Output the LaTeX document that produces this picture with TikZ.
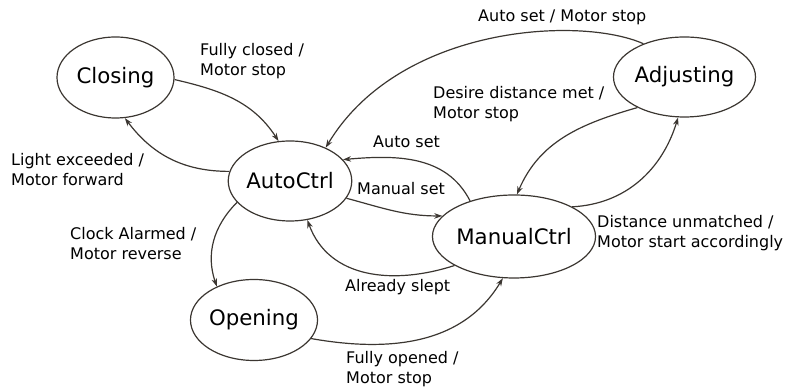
\documentclass[tikz,border=0pt]{standalone}
\usepackage{fontspec}
\setmainfont{DejaVu Sans}
\usetikzlibrary{shapes.geometric,arrows.meta}
\definecolor{edgegray}{HTML}{3B3631}
\definecolor{tipgray}{HTML}{55504B}
\tikzset{
  state/.style={ellipse, draw=edgegray, line width=1.2pt, inner sep=0pt,
    font=\fontsize{21.3}{25}\selectfont},
  trans/.style={draw=edgegray, line width=1.2pt,
    -{Stealth[length=8pt,width=5.5pt,inset=2.5pt,fill=tipgray]}},
  % base anchor of a two-line label sits on its last line
  lbl/.style={anchor=base west, inner sep=0pt, align=left,
    font=\fontsize{16}{20.5}\selectfont}
}
\begin{document}
\begin{tikzpicture}[x=1pt,y=1pt]
\useasboundingbox (0,0) rectangle (785,387);

% states
\node[state, minimum width=117pt, minimum height=81pt] (clo) at (115.5,309.5) {Closing};
\node[state, minimum width=116pt, minimum height=80pt] (auto) at (290,206) {AutoCtrl};
\node[state, minimum width=118pt, minimum height=81pt] (open) at (254,67) {Opening};
\node[state, minimum width=142pt, minimum height=83pt] (man) at (514,150.5) {ManualCtrl};
\node[state, minimum width=142pt, minimum height=80pt] (adj) at (684.5,310) {Adjusting};

% transitions
\draw[trans] (clo.-2) to[out=-13,in=123] (auto.106);
\draw[trans] (auto.171) to[out=180,in=-53] (clo.-77);
\draw[trans] (adj.141) to[out=156,in=59,out distance=69pt,in distance=143pt] (auto.43);
\draw[trans] (adj.213) to[out=196,in=67] (man.86);
\draw[trans] (man.27) to[out=3,in=-107] (adj.-99);
\draw[trans] (man.141) to[out=117,in=5] (auto.22);
\draw[trans] (auto.-17) to[out=-15,in=180] (man.164);
\draw[trans] (man.206) to[out=198,in=-70,looseness=1.05] (auto.-66);
\draw[trans] (auto.202) to[out=225,in=109] (open.138);
\draw[trans] (open.-18) to[out=-10,in=239] (man.-105);

% transition labels
\node[lbl] (l1) at (200,311) {Fully closed /\\Motor stop};
\node[lbl] (l2) at (11,201) {Light exceeded /\\Motor forward};
\node[lbl] (l3) at (478,365) {Auto set / Motor stop};
\node[lbl] (l4) at (433,268) {Desire distance met /\\Motor stop};
\node[lbl] (l5) at (373,239) {Auto set};
\node[lbl] (l6) at (357,192) {Manual set};
\node[lbl] (l7) at (70,127) {Clock Alarmed /\\Motor reverse};
\node[lbl] (l8) at (345,95) {Already slept};
\node[lbl] (l9) at (346,3) {Fully opened /\\Motor stop};
\node[lbl] (l10) at (597,139) {Distance unmatched /\\Motor start accordingly};
\end{tikzpicture}
\end{document}
